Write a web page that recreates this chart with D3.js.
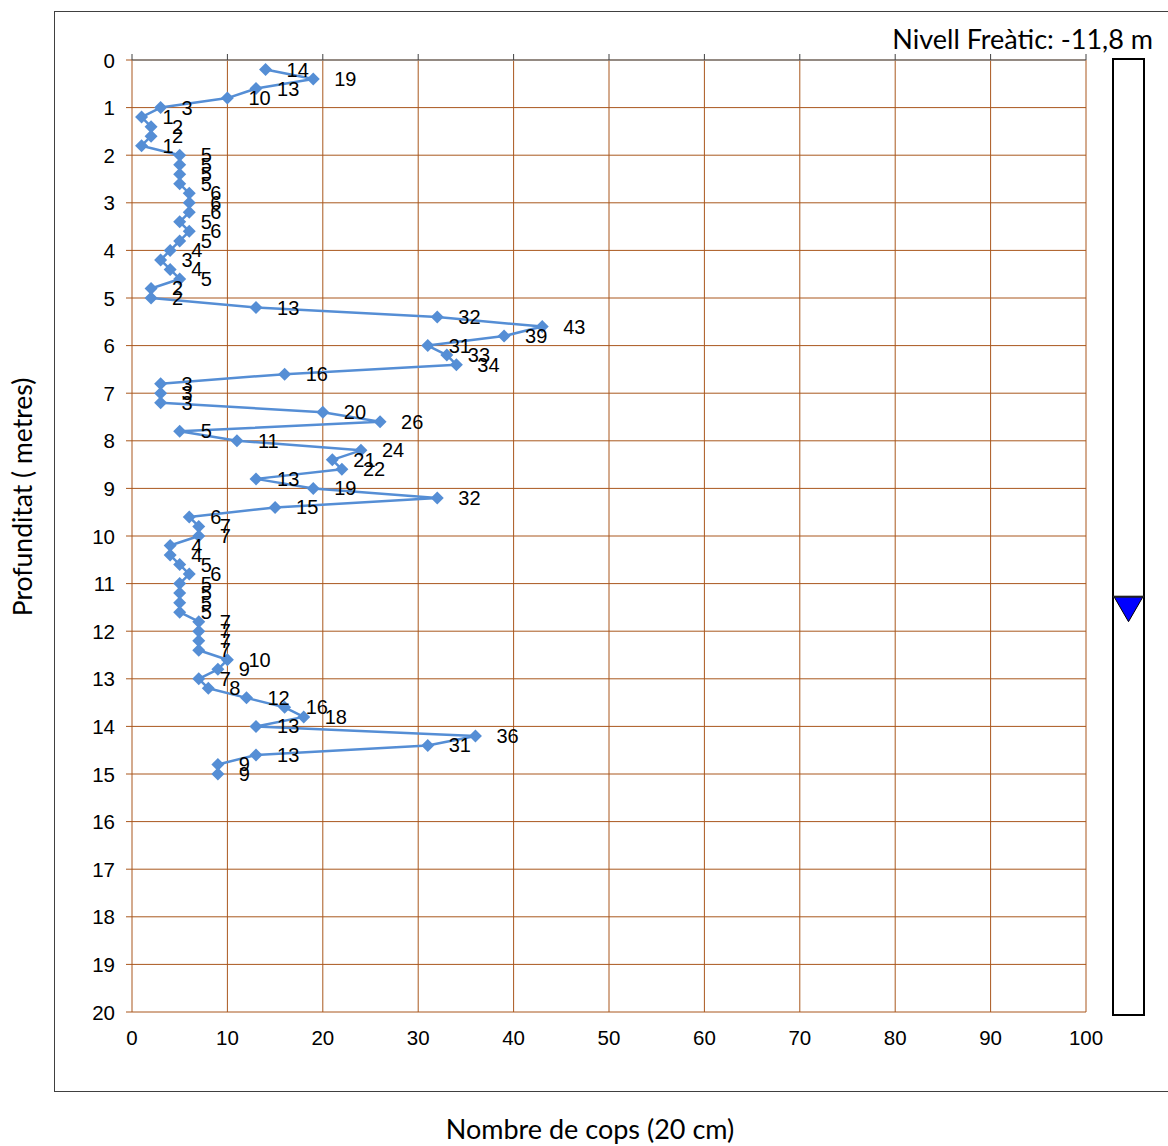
<!DOCTYPE html>
<html>
<head>
<meta charset="utf-8">
<script src="https://cdn.jsdelivr.net/npm/d3@7"></script>
<style>
  html, body { margin: 0; padding: 0; background: #fff; }
  svg { display: block; }
</style>
</head>
<body>
<svg id="chart" width="1168" height="1146"></svg>
<script>
// Penetration test: blow counts per 20 cm of depth
const depths = [0.2,0.4,0.6,0.8,1.0,1.2,1.4,1.6,1.8,2.0,2.2,2.4,2.6,2.8,3.0,3.2,3.4,3.6,3.8,4.0,
  4.2,4.4,4.6,4.8,5.0,5.2,5.4,5.6,5.8,6.0,6.2,6.4,6.6,6.8,7.0,7.2,7.4,7.6,7.8,8.0,
  8.2,8.4,8.6,8.8,9.0,9.2,9.4,9.6,9.8,10.0,10.2,10.4,10.6,10.8,11.0,11.2,11.4,11.6,11.8,12.0,
  12.2,12.4,12.6,12.8,13.0,13.2,13.4,13.6,13.8,14.0,14.2,14.4,14.6,14.8,15.0];
const blows = [14,19,13,10,3,1,2,2,1,5,5,5,5,6,6,6,5,6,5,4,
  3,4,5,2,2,13,32,43,39,31,33,34,16,3,3,3,20,26,5,11,
  24,21,22,13,19,32,15,6,7,7,4,4,5,6,5,5,5,5,7,7,
  7,7,10,9,7,8,12,16,18,13,36,31,13,9,9];
const xTicks = [0,10,20,30,40,50,60,70,80,90,100];
const yTicks = [0,1,2,3,4,5,6,7,8,9,10,11,12,13,14,15,16,17,18,19,20];
const waterLevel = 11.8;
const waterLabel = "Nivell Freàtic: -11,8 m";
const xTitle = "Nombre de cops (20 cm)";
const yTitle = "Profunditat ( metres)";

const svg = d3.select("#chart");
const x = d3.scaleLinear().domain([0, 100]).range([132, 1086]);
const y = d3.scaleLinear().domain([0, 20]).range([60, 1012]);

const grid = "#a9571d";
const numFont = "'Liberation Sans', Arial, sans-serif";
const titleFont = "Lato, 'Open Sans', sans-serif";

// outer frame
svg.append("rect")
  .attr("x", 54.5).attr("y", 11.5).attr("width", 1130).attr("height", 1080)
  .attr("fill", "none").attr("stroke", "#404040").attr("stroke-width", 1);

// gridlines
svg.append("g").selectAll("line").data(xTicks).join("line")
  .attr("x1", d => x(d)).attr("x2", d => x(d))
  .attr("y1", y(0)).attr("y2", y(20))
  .attr("stroke", grid).attr("stroke-width", 1);
svg.append("g").selectAll("line").data(yTicks).join("line")
  .attr("x1", x(0) - 6).attr("x2", x(100))
  .attr("y1", d => y(d)).attr("y2", d => y(d))
  .attr("stroke", grid).attr("stroke-width", 1);

// value axis line along depth 0, ticks pointing up
svg.append("line")
  .attr("x1", x(0)).attr("x2", x(100)).attr("y1", y(0)).attr("y2", y(0))
  .attr("stroke", "#7f7f7f").attr("stroke-width", 1.5);
svg.append("g").selectAll("line").data(xTicks).join("line")
  .attr("x1", d => x(d)).attr("x2", d => x(d))
  .attr("y1", y(0) - 6).attr("y2", y(0))
  .attr("stroke", "#404040").attr("stroke-width", 1);

// tick labels
svg.append("g").selectAll("text").data(xTicks).join("text")
  .attr("x", d => x(d)).attr("y", 1045)
  .attr("text-anchor", "middle")
  .attr("font-family", numFont).attr("font-size", 20.5)
  .text(d => d);
svg.append("g").selectAll("text").data(yTicks).join("text")
  .attr("x", 115).attr("y", d => y(d) + 7.5)
  .attr("text-anchor", "end")
  .attr("font-family", numFont).attr("font-size", 20.5)
  .text(d => d);

// axis titles
svg.append("text")
  .attr("transform", "translate(32,497) rotate(-90)")
  .attr("text-anchor", "middle")
  .attr("font-family", titleFont).attr("font-size", 26.5)
  .text(yTitle);
svg.append("text")
  .attr("x", 590).attr("y", 1139)
  .attr("text-anchor", "middle")
  .attr("font-family", titleFont).attr("font-size", 27)
  .text(xTitle);

// blow-count profile
const pts = depths.map((d, i) => ({ depth: d, value: blows[i] }));
const line = d3.line().x(d => x(d.value)).y(d => y(d.depth));
svg.append("path")
  .datum(pts)
  .attr("d", line)
  .attr("fill", "none").attr("stroke", "#558ed5").attr("stroke-width", 2.5)
  .attr("stroke-linejoin", "round");
svg.append("g").selectAll("path").data(pts).join("path")
  .attr("transform", d => `translate(${x(d.value)},${y(d.depth)})`)
  .attr("d", "M0,-6.5L6.5,0L0,6.5L-6.5,0Z")
  .attr("fill", "#558ed5");
svg.append("g").selectAll("text").data(pts).join("text")
  .attr("x", d => x(d.value) + 21).attr("y", d => y(d.depth) + 7)
  .attr("font-family", numFont).attr("font-size", 20)
  .attr("fill", "#000")
  .text(d => d.value);

// water-table column
svg.append("rect")
  .attr("x", 1113).attr("y", y(0) - 1).attr("width", 31).attr("height", y(20) - y(0) + 4)
  .attr("fill", "none").attr("stroke", "#000").attr("stroke-width", 2);
const tip = y(waterLevel);
svg.append("path")
  .attr("d", `M1114,${tip - 25}L1143,${tip - 25}L1128.5,${tip}Z`)
  .attr("fill", "#0000ff").attr("stroke", "#000").attr("stroke-width", 1);
svg.append("line")
  .attr("x1", 1113).attr("x2", 1144).attr("y1", tip - 25).attr("y2", tip - 25)
  .attr("stroke", "#222").attr("stroke-width", 2);
svg.append("text")
  .attr("x", 1153).attr("y", 49)
  .attr("text-anchor", "end")
  .attr("font-family", titleFont).attr("font-size", 27)
  .text(waterLabel);
</script>
</body>
</html>
